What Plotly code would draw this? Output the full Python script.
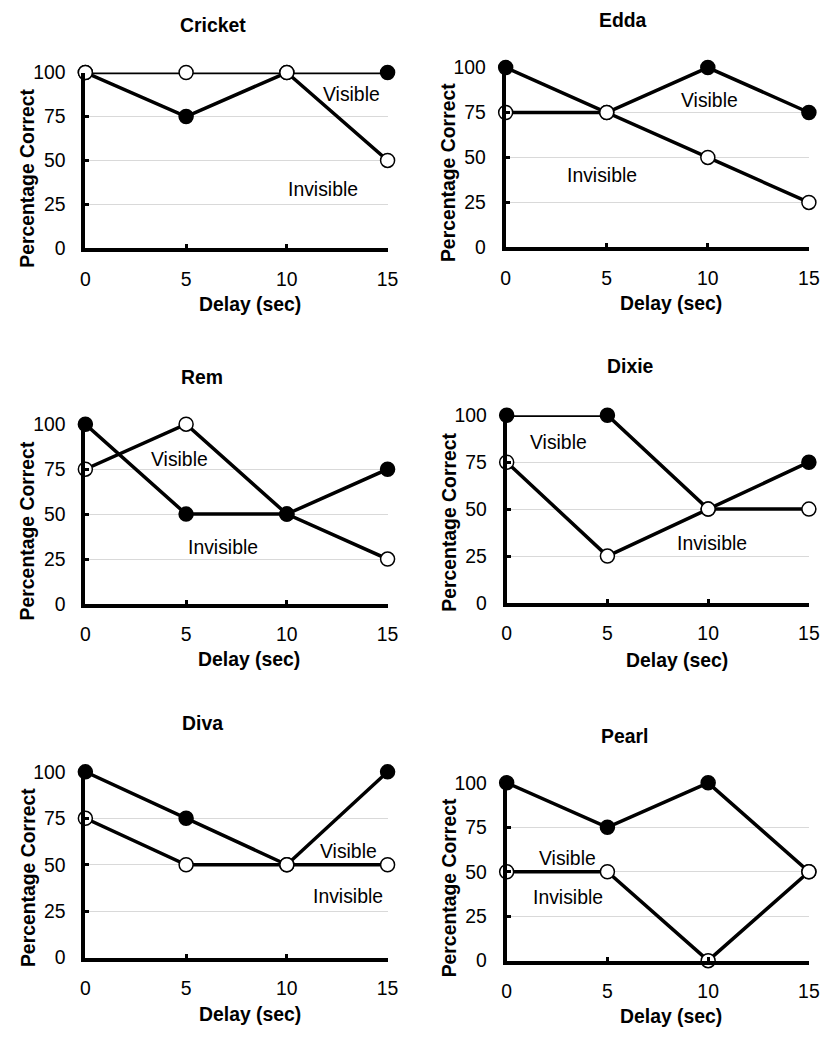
import plotly.graph_objects as go

# ---------------- data ----------------
delay_sec = [0, 5, 10, 15]
panel_names = ["Cricket", "Edda", "Rem", "Dixie", "Diva", "Pearl"]

cricket_visible = [100, 75, 100, 100]
cricket_invisible = [100, 100, 100, 50]
edda_visible = [100, 75, 100, 75]
edda_invisible = [75, 75, 50, 25]
rem_visible = [100, 50, 50, 75]
rem_invisible = [75, 100, 50, 25]
dixie_visible = [100, 100, 50, 75]
dixie_invisible = [75, 25, 50, 50]
diva_visible = [100, 75, 50, 100]
diva_invisible = [75, 50, 50, 50]
pearl_visible = [100, 75, 100, 50]
pearl_invisible = [50, 50, 0, 50]

visible_series = [cricket_visible, edda_visible, rem_visible,
                  dixie_visible, diva_visible, pearl_visible]
invisible_series = [cricket_invisible, edda_invisible, rem_invisible,
                    dixie_invisible, diva_invisible, pearl_invisible]

y_ticks = [0, 25, 50, 75, 100]
x_ticks = [0, 5, 10, 15]

# ---------------- layout constants (pixels, as seen in the target) ----------------
W, H = 830, 1050
# plot areas: (x_left, x_right, y_top, y_bottom)
boxes = [(85, 387, 71, 247), (505, 808, 66, 246),
         (85, 387, 423, 603), (506, 808, 414, 602),
         (85, 387, 771, 957), (506, 808, 782, 960)]
title_pos = [(213, 23), (622, 18), (202, 376), (630, 365), (202, 722), (624, 735)]
xtitle_pos = [(250, 303), (670, 302), (249, 658), (676, 659), (250, 1013), (670, 1015)]
ytitle_pos = [(27, 177), (448, 171), (27, 530), (448, 521), (27, 877), (448, 887)]
# label positions in data coordinates (x, y)
vis_label = [(13.2, 88), (10.1, 82), (4.67, 80.5), (2.58, 85.8), (13.06, 57.5), (3.02, 57.8)]
inv_label = [(11.8, 33.5), (4.75, 40.5), (6.84, 31.8), (10.2, 31.7), (13.03, 33.2), (3.02, 35.6)]
# which series is drawn on top
visible_on_top = [False, False, True, False, False, False]

FONT = "Arial, Liberation Sans, Helvetica, sans-serif"
# correction for the way the page is photographed (scale + offset)
SC, OX, OY = 0.98, 4.7, 9.4
FS = 19 / SC


def px_x(p):
    return ((p - OX) / SC) / W


def px_y(p):
    return 1 - ((p - OY) / SC) / H


fig = go.Figure()
annotations = []

for i, name in enumerate(panel_names):
    n = i + 1
    xa = "x" if n == 1 else f"x{n}"
    ya = "y" if n == 1 else f"y{n}"
    xl, xr, yt, yb = boxes[i]

    vis_trace = go.Scatter(
        x=delay_sec, y=visible_series[i], mode="lines+markers",
        line=dict(color="black", width=3.5),
        marker=dict(size=14, color="black", line=dict(color="black", width=1.5)),
        cliponaxis=False, showlegend=False, xaxis=xa, yaxis=ya, name="Visible",
        hoverinfo="skip")
    inv_trace = go.Scatter(
        x=delay_sec, y=invisible_series[i], mode="lines+markers",
        line=dict(color="black", width=3.5),
        marker=dict(size=14, color="white", line=dict(color="black", width=1.5)),
        cliponaxis=False, showlegend=False, xaxis=xa, yaxis=ya, name="Invisible",
        hoverinfo="skip")
    if visible_on_top[i]:
        fig.add_trace(inv_trace)
        fig.add_trace(vis_trace)
    else:
        fig.add_trace(vis_trace)
        fig.add_trace(inv_trace)

    xkey = "xaxis" if n == 1 else f"xaxis{n}"
    ykey = "yaxis" if n == 1 else f"yaxis{n}"
    fig.layout[xkey] = dict(
        domain=[px_x(xl), px_x(xr)], anchor=ya, range=[0, 15],
        tickmode="array", tickvals=x_ticks, ticktext=[str(t) for t in x_ticks],
        showgrid=False, zeroline=False, showline=True, linecolor="black", linewidth=4,
        ticks="inside", ticklen=4, tickwidth=3, tickcolor="black",
        ticklabelstandoff=10,
        tickfont=dict(family=FONT, size=FS, color="black"), fixedrange=True)
    fig.layout[ykey] = dict(
        domain=[px_y(yb), px_y(yt)], anchor=xa, range=[0, 100],
        tickmode="array", tickvals=y_ticks, ticktext=[str(t) for t in y_ticks],
        showgrid=True, gridcolor="#d9d9d9", gridwidth=1,
        zeroline=False, showline=True, linecolor="black", linewidth=4,
        ticks="inside", ticklen=4, tickwidth=3, tickcolor="black",
        ticklabelstandoff=12,
        tickfont=dict(family=FONT, size=FS, color="black"), fixedrange=True)

    tx, ty = title_pos[i]
    annotations.append(dict(text=f"<b>{name}</b>", x=px_x(tx), y=px_y(ty),
                            xref="paper", yref="paper", showarrow=False,
                            xanchor="center", yanchor="middle",
                            font=dict(family=FONT, size=FS, color="black")))
    tx, ty = xtitle_pos[i]
    annotations.append(dict(text="<b>Delay (sec)</b>", x=px_x(tx), y=px_y(ty),
                            xref="paper", yref="paper", showarrow=False,
                            xanchor="center", yanchor="middle",
                            font=dict(family=FONT, size=FS, color="black")))
    tx, ty = ytitle_pos[i]
    annotations.append(dict(text="<b>Percentage Correct</b>", x=px_x(tx), y=px_y(ty),
                            xref="paper", yref="paper", showarrow=False, textangle=-90,
                            xanchor="center", yanchor="middle",
                            font=dict(family=FONT, size=FS, color="black")))
    vx, vy = vis_label[i]
    annotations.append(dict(text="Visible", x=vx, y=vy, xref=xa, yref=ya,
                            showarrow=False, xanchor="center", yanchor="middle",
                            font=dict(family=FONT, size=FS, color="black")))
    ix, iy = inv_label[i]
    annotations.append(dict(text="Invisible", x=ix, y=iy, xref=xa, yref=ya,
                            showarrow=False, xanchor="center", yanchor="middle",
                            font=dict(family=FONT, size=FS, color="black")))

fig.update_layout(
    width=W, height=H, margin=dict(l=0, r=0, t=0, b=0),
    paper_bgcolor="white", plot_bgcolor="white",
    annotations=annotations, showlegend=False, hovermode=False,
    font=dict(family=FONT, size=FS, color="black"))

fig.write_html(
    "out.html",
    config={"displayModeBar": False, "staticPlot": True},
    post_script="document.body.style.margin='0';document.body.style.padding='0';"
                "document.documentElement.style.overflow='hidden';")
